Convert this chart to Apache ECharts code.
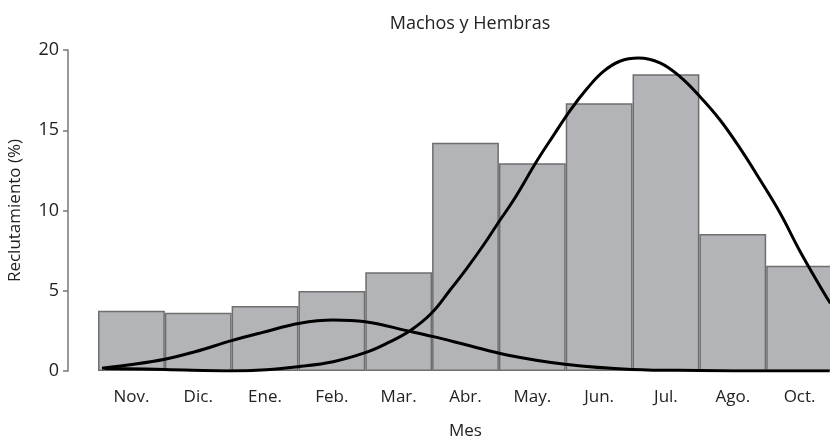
<!DOCTYPE html>
<html>
<head>
<meta charset="utf-8">
<style>
  html, body { margin: 0; padding: 0; background: #fff; }
</style>
</head>
<body>
<div id="main" style="width: 830px; height: 441px"></div>
<script src="https://cdn.jsdelivr.net/npm/echarts@6/dist/echarts.min.js"></script>
<script>
  // bars: recruitment per month (%)
  const months = ['Nov.', 'Dic.', 'Ene.', 'Feb.', 'Mar.', 'Abr.', 'May.', 'Jun.', 'Jul.', 'Ago.', 'Oct.'];
  const recruit = [3.76, 3.63, 4.05, 4.98, 6.15, 14.22, 12.94, 16.68, 18.49, 8.54, 6.56];

  // fitted curves (x in month slots, 0..11)
  const smallX = [0.06, 0.45, 1.0, 1.45, 2.0, 2.45, 3.02, 3.52, 4.0, 4.67, 5.02, 5.52, 6.12, 6.99, 7.99, 9.0, 10.0, 10.95];
  const smallY = [0.17, 0.37, 0.73, 1.2, 1.89, 2.39, 2.98, 3.18, 3.07, 2.47, 2.14, 1.62, 1.0, 0.42, 0.1, 0.03, 0.0, 0.0];
  const bigX = [0.1, 1.0, 2.0, 2.45, 2.99, 3.52, 4.0, 4.32, 4.67, 4.99, 5.27, 5.52, 5.77, 6.0, 6.22, 6.57, 6.82, 7.07, 7.32, 7.56, 7.81, 8.09, 8.41, 8.71, 9.01, 9.31, 9.61, 9.91, 10.21, 10.51, 10.81, 10.96];
  const bigY = [0.15, 0.1, 0.0, 0.06, 0.27, 0.58, 1.14, 1.72, 2.51, 3.6, 5.05, 6.4, 7.85, 9.3, 10.65, 13.1, 14.7, 16.26, 17.6, 18.65, 19.3, 19.5, 19.2, 18.34, 17.09, 15.64, 13.87, 11.9, 9.83, 7.43, 5.25, 4.22];

  const yTicks = [0, 5, 10, 15, 20];

  var chartDom = document.getElementById('main');
  var myChart = echarts.init(chartDom);
  var font = '"Open Sans", sans-serif';
  var option;

  option = {
    textStyle: { fontFamily: font },
    title: {
      text: 'Machos y Hembras',
      left: 465,
      textAlign: 'center',
      top: 10,
      textStyle: { fontFamily: font, fontSize: 18, fontWeight: 'normal', color: '#222' },
    },
    grid: { left: 98, right: -3, top: 50, bottom: 70, containLabel: false, outerBoundsMode: 'none' },
    xAxis: [
      {
        type: 'category',
        data: months,
        name: 'Mes',
        nameLocation: 'middle',
        nameGap: 52,
        nameMoveOverlap: false,
        nameTextStyle: { fontFamily: font, fontSize: 17, color: '#222' },
        axisLine: { show: false },
        axisTick: { show: false },
        axisLabel: { fontFamily: font, fontSize: 17, color: '#222', margin: 18 },
      },
      { type: 'value', min: 0, max: 11, show: false },
    ],
    yAxis: {
      type: 'value',
      position: 'left',
      min: yTicks[0],
      max: yTicks[yTicks.length - 1],
      interval: 5,
      offset: 30,
      name: 'Reclutamiento (%)',
      nameLocation: 'middle',
      nameGap: 44,
      nameMoveOverlap: false,
      nameTextStyle: { fontFamily: font, fontSize: 17, color: '#222' },
      axisLine: { show: true, onZero: false, lineStyle: { color: '#777', width: 1.5 } },
      axisTick: { show: true, length: 5, lineStyle: { color: '#777', width: 1.5 } },
      axisLabel: { fontFamily: font, fontSize: 18, color: '#222', margin: 9 },
      splitLine: { show: false },
    },
    series: [
      {
        type: 'bar',
        data: recruit,
        barCategoryGap: 0,
        itemStyle: { color: '#b3b4b7', borderColor: '#6e6e6e', borderWidth: 1.5 },
      },
      {
        type: 'line',
        xAxisIndex: 1,
        data: smallX.map((x, i) => [x, smallY[i]]),
        smooth: 0.4,
        symbol: 'none',
        lineStyle: { color: '#000', width: 3 },
        z: 5,
      },
      {
        type: 'line',
        xAxisIndex: 1,
        data: bigX.map((x, i) => [x, bigY[i]]),
        smooth: 0.4,
        symbol: 'none',
        lineStyle: { color: '#000', width: 3 },
        z: 5,
      },
    ],
    animation: false,
  };

  option && myChart.setOption(option);
</script>
</body>
</html>
